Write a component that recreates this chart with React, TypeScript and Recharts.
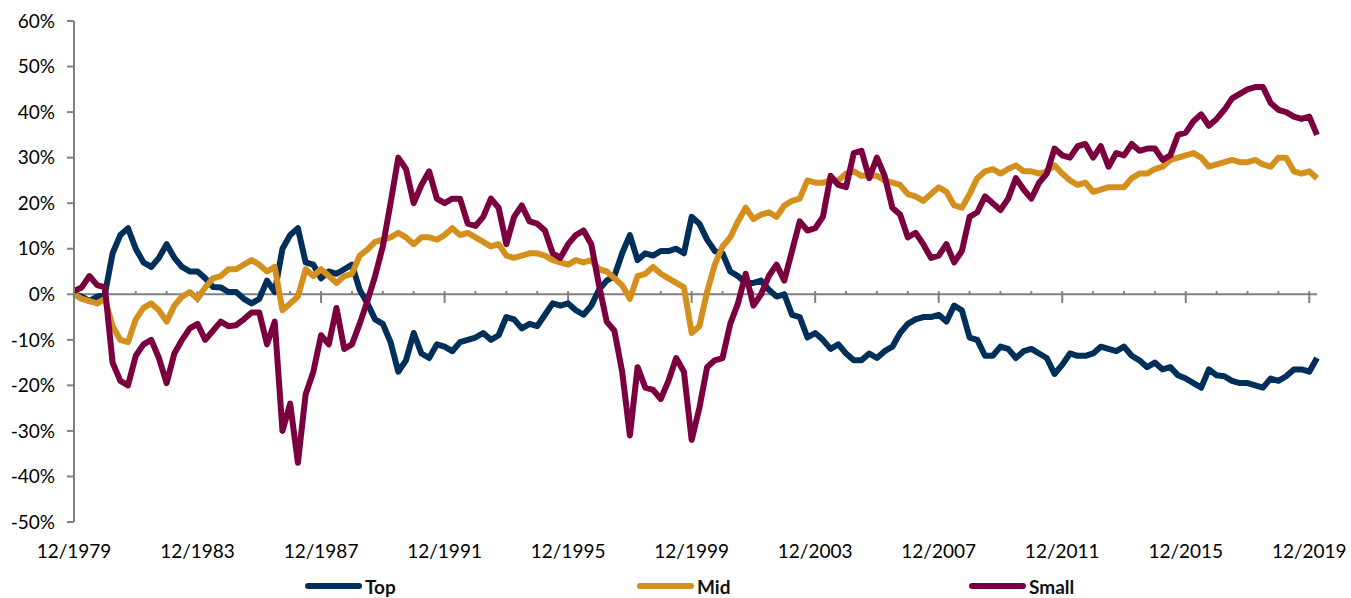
import { LineChart, Line, XAxis, YAxis, ReferenceLine, Legend } from 'recharts';

// quarterly readings, 12/1979 through 3/2020 (relative performance, %)
const xTickLabels = ['12/1979', '12/1983', '12/1987', '12/1991', '12/1995', '12/1999', '12/2003', '12/2007', '12/2011', '12/2015', '12/2019'];
const yTicks = [-50, -40, -30, -20, -10, 0, 10, 20, 30, 40, 50, 60];

const topValues = [
  0, -0.5, -1.5, -0.5, 0, 9, 13, 14.5, 10, 7, 6, 8, 11, 8, 6, 5, 5, 3.5, 1.6, 1.5,
  0.5, 0.5, -1, -2, -1, 3, 0.5, 10, 13, 14.5, 7, 6.5, 3.5, 5, 4.5, 5.5, 6.5, 1, -2, -5.5,
  -6.5, -10.5, -17, -14.5, -8.5, -13, -14, -11, -11.5, -12.5, -10.5, -10, -9.5, -8.5, -10, -9, -5, -5.5, -7.5, -6.5,
  -7, -4.5, -2, -2.5, -2, -3.5, -4.5, -2.5, 1, 3, 4, 9, 13, 7.5, 9, 8.5, 9.5, 9.5, 10, 9,
  17, 15.5, 12, 9.5, 9, 5, 4, 2.5, 2.5, 3, 1, -0.5, 0, -4.5, -5, -9.5, -8.5, -10, -12, -11,
  -13, -14.5, -14.5, -13, -14, -12.5, -11.5, -8.5, -6.5, -5.5, -5, -5, -4.5, -6, -2.5, -3.5, -9.5, -10, -13.5, -13.5,
  -11.5, -12, -14, -12.5, -12, -13, -14, -17.5, -15.5, -13, -13.5, -13.5, -13, -11.5, -12, -12.5, -11.5, -13.5, -14.5, -16,
  -15, -16.5, -16, -17.8, -18.5, -19.5, -20.5, -16.5, -17.8, -18, -19, -19.5, -19.5, -20, -20.5, -18.5, -19, -18, -16.5, -16.5,
  -17, -14,
];

const midValues = [
  0, -1, -1.5, -2, -1, -7, -10, -10.5, -5.5, -3, -2, -3.5, -6, -2.5, -0.5, 0.5, -1, 1.5, 3.5, 4,
  5.5, 5.5, 6.5, 7.5, 6.5, 5, 6, -3.5, -2, -0.5, 5.5, 4, 5.5, 4, 2.5, 4, 4.5, 8.5, 9.8, 11.5,
  12, 12.5, 13.5, 12.5, 11, 12.5, 12.5, 12, 13, 14.5, 13, 13.5, 12.5, 11.5, 10.5, 11, 8.5, 8, 8.5, 9,
  9, 8.5, 7.5, 7, 6.5, 7.5, 7, 7.5, 5.5, 5, 3.5, 2, -1, 4, 4.5, 6, 4.5, 3.5, 2.5, 1.5,
  -8.5, -7, 0.5, 6.5, 10.5, 12.5, 16, 19, 16.5, 17.5, 18, 17, 19.5, 20.5, 21, 25, 24.5, 24.5, 25, 25,
  26.5, 27, 26, 26, 26, 25, 24.5, 24, 22, 21.5, 20.5, 22, 23.5, 22.5, 19.5, 19, 22, 25.5, 27, 27.5,
  26.5, 27.5, 28.3, 27, 27, 26.5, 27, 28.3, 26.5, 25, 24, 24.5, 22.5, 23, 23.5, 23.5, 23.5, 25.5, 26.5, 26.5,
  27.5, 28, 29.5, 30, 30.5, 31, 30, 28, 28.5, 29, 29.5, 29, 29, 29.5, 28.5, 28, 30, 30, 27, 26.5,
  27, 25.5,
];

const smallValues = [
  0.7, 1.5, 4, 2, 1.5, -15, -19, -20, -13.5, -11, -10, -14, -19.5, -13, -10, -7.5, -6.5, -10, -8, -6,
  -7, -6.8, -5.5, -4, -4, -11, -6, -30, -24, -37, -22, -17, -9, -11, -3, -12, -11, -6.5, -1.5, 4,
  10.5, 20, 30, 27.5, 20, 24, 27, 21, 20, 21, 21, 15.5, 15, 17, 21, 19, 11, 17, 19.5, 16,
  15.5, 14, 9, 8, 11, 13, 14, 11, 2, -6, -8, -17, -31, -16, -20.5, -21, -23, -19, -14, -17,
  -32, -25, -16, -14.5, -14, -6.5, -2, 4.5, -2.5, 0, 4, 6.5, 3, 9.5, 16, 14, 14.5, 17, 26, 24,
  23.5, 31, 31.5, 25.5, 30, 26, 19, 17.5, 12.5, 13.5, 11, 8, 8.5, 11, 7, 9.5, 17, 18, 21.5, 20,
  18.5, 21, 25.5, 23, 21, 24.5, 26.5, 32, 30.5, 30, 32.5, 33, 30, 32.5, 28, 31, 30.5, 33, 31.5, 32,
  32, 29.5, 30.5, 35, 35.5, 38, 39.5, 37, 38.5, 40.5, 43, 44, 45, 45.5, 45.5, 42, 40.5, 40, 39, 38.5,
  39, 35,
];

const series = [
  { key: 'top', name: 'Top', color: '#00305A' },
  { key: 'mid', name: 'Mid', color: '#D4901C' },
  { key: 'small', name: 'Small', color: '#7B003F' },
];

const data = topValues.map((top, i) => ({ month: i * 3, top, mid: midValues[i], small: smallValues[i] }));
const labelMonths = xTickLabels.map((_, i) => i * 48);
const yearMonths = Array.from({ length: 41 }, (_, i) => i * 12);

const axisGrey = '#808080';
const font = 'Lato, "Open Sans", sans-serif';

const renderLegend = () => (
  <div style={{ display: 'flex', alignItems: 'center', height: 24, paddingLeft: 305, fontFamily: font }}>
    {series.map((s) => (
      <div key={s.key} style={{ display: 'flex', alignItems: 'center', width: 332 }}>
        <span style={{ display: 'inline-block', width: 57, height: 6, borderRadius: 3, background: s.color, marginRight: 3 }} />
        <span style={{ fontWeight: 700, fontSize: 19, color: '#111' }}>{s.name}</span>
      </div>
    ))}
  </div>
);

export default function App() {
  return (
    <div style={{ position: 'absolute', left: 0, top: 0, background: '#fff' }}>
      <LineChart width={1351} height={598} data={data} margin={{ top: 21, right: 34, left: 0, bottom: 0 }}>
        <XAxis
          dataKey="month"
          type="number"
          domain={[0, 483]}
          ticks={labelMonths}
          tickFormatter={(m: number) => xTickLabels[Math.round(m / 48)]}
          axisLine={false}
          tickLine={false}
          tickSize={0}
          tickMargin={23}
          height={52}
          tick={{ fill: '#000', fontSize: 19, fontFamily: font }}
          interval={0}
        />
        <YAxis
          domain={[-50, 60]}
          ticks={yTicks}
          tickFormatter={(v: number) => `${v}%`}
          width={74}
          axisLine={{ stroke: axisGrey, strokeWidth: 2 }}
          tickLine={{ stroke: axisGrey, strokeWidth: 2 }}
          tickSize={7}
          tickMargin={12}
          tick={{ fill: '#000', fontSize: 19, fontFamily: font }}
          interval={0}
        />
        <ReferenceLine y={0} stroke={axisGrey} strokeWidth={2} />
        {yearMonths.map((m) => (
          <ReferenceLine
            key={m}
            stroke={axisGrey}
            strokeWidth={2}
            segment={m % 48 === 0 ? [{ x: m, y: 0.7 }, { x: m, y: -1.9 }] : [{ x: m, y: 0.7 }, { x: m, y: 0 }]}
          />
        ))}
        <Legend verticalAlign="bottom" content={renderLegend} wrapperStyle={{ left: 0, width: 1351, bottom: 0 }} />
        {series.map((s) => (
          <Line
            key={s.key}
            type="linear"
            dataKey={s.key}
            name={s.name}
            stroke={s.color}
            strokeWidth={6}
            dot={false}
            strokeLinejoin="round"
            isAnimationActive={false}
          />
        ))}
      </LineChart>
    </div>
  );
}
